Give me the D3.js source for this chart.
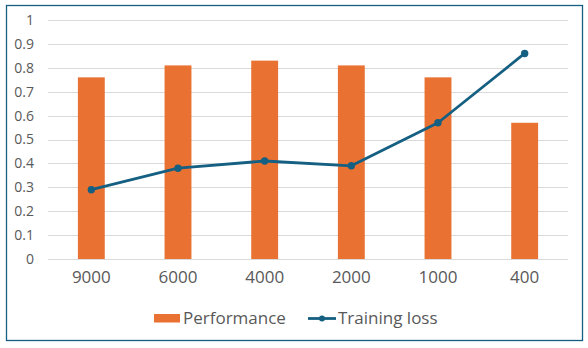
<!DOCTYPE html>
<html><head><meta charset="utf-8">
<script src="https://cdn.jsdelivr.net/npm/d3@7"></script>
<style>body{margin:0;background:#fff}svg{display:block}</style>
</head><body>
<svg id="c" width="588" height="348"></svg>
<script>
const categories = ["9000","6000","4000","2000","1000","400"];
const performance = [0.76, 0.81, 0.83, 0.81, 0.76, 0.57];
const trainingLoss = [0.29, 0.38, 0.41, 0.39, 0.57, 0.86];
const yTicks = [0,0.1,0.2,0.3,0.4,0.5,0.6,0.7,0.8,0.9,1];
const seriesNames = ["Performance","Training loss"];

const orange = "#E97132", blue = "#156082", txt = "#595959";
const font = "'Open Sans', sans-serif";
const svg = d3.select("#c");

svg.append("rect").attr("x",6.5).attr("y",5.5).attr("width",576).attr("height",335)
  .attr("fill","#fff").attr("stroke",blue).attr("stroke-width",1.3);

const L=48, R=568, T=20, B=259;
const x = d3.scaleBand().domain(categories).range([L,R]).paddingInner(0.69).paddingOuter(0.345);
const xc = d3.scaleBand().domain(categories).range([L,R]);
const y = d3.scaleLinear().domain([0,1]).range([B,T]);

// gridlines
svg.append("g").selectAll("line").data(yTicks).join("line")
  .attr("x1",L).attr("x2",R).attr("y1",d=>Math.round(y(d))+0.5).attr("y2",d=>Math.round(y(d))+0.5)
  .attr("stroke","#d9d9d9").attr("stroke-width",1);

// y axis labels
const yAxis = d3.axisLeft(y).tickValues(yTicks).tickSize(0).tickPadding(0).tickFormat(d3.format("~g"));
const ya = svg.append("g").attr("transform",`translate(34,0)`).call(yAxis);
ya.select(".domain").remove();
ya.selectAll("text").attr("fill",txt).style("font-family",font).style("font-size","14px");

// bars
svg.append("g").selectAll("rect").data(performance).join("rect")
  .attr("x",(d,i)=>x(categories[i])).attr("width",x.bandwidth())
  .attr("y",d=>y(d)).attr("height",d=>y(0)-y(d)).attr("fill",orange);

// x axis labels
const xAxis = d3.axisBottom(xc).tickSize(0).tickPadding(0);
const xa = svg.append("g").attr("transform",`translate(0,${B+12})`).call(xAxis);
xa.select(".domain").remove();
xa.selectAll("text").attr("fill",txt).style("font-family",font).style("font-size","17px");

// line
const cx = (d,i)=>xc(categories[i])+xc.bandwidth()/2;
svg.append("path").datum(trainingLoss)
  .attr("d",d3.line().x(cx).y(d=>y(d)))
  .attr("fill","none").attr("stroke",blue).attr("stroke-width",2.8).attr("stroke-linejoin","round");
svg.append("g").selectAll("circle").data(trainingLoss).join("circle")
  .attr("cx",cx).attr("cy",d=>y(d)).attr("r",3.7).attr("fill",blue);

// legend
const lg = svg.append("g").style("font-family",font).style("font-size","17px");
lg.append("rect").attr("x",154).attr("y",314).attr("width",26).attr("height",8.5).attr("fill",orange);
lg.append("text").attr("x",183).attr("y",318.5).attr("dy","0.35em").attr("fill",txt).text(seriesNames[0]);
lg.append("line").attr("x1",308).attr("x2",336).attr("y1",318.5).attr("y2",318.5).attr("stroke",blue).attr("stroke-width",2.8);
lg.append("circle").attr("cx",322).attr("cy",318.5).attr("r",3).attr("fill",blue);
lg.append("text").attr("x",338).attr("y",318.5).attr("dy","0.35em").attr("fill",txt).text(seriesNames[1]);
</script>
</body></html>
